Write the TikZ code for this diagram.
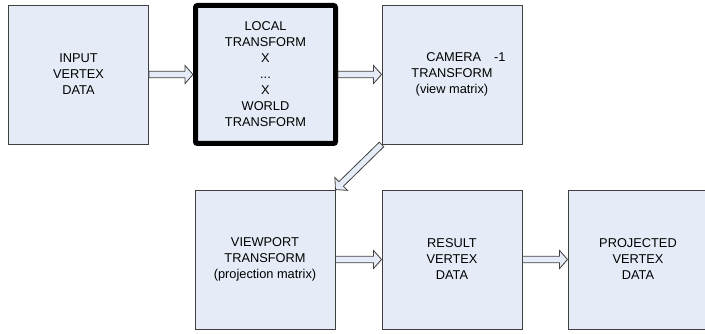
\documentclass[tikz,border=0pt]{standalone}
\usepackage{fontspec}
\setmainfont{Liberation Sans}
\usetikzlibrary{calc}
\definecolor{boxfill}{HTML}{E6ECF7}
\definecolor{boxline}{HTML}{404040}
\begin{document}
\begin{tikzpicture}[x=1pt,y=-1pt,
  box/.style={draw=boxline, line width=0.9pt, fill=boxfill, minimum width=140pt,
    minimum height=139pt, inner sep=0pt, align=center,
    font=\fontsize{12.8}{16}\selectfont},
  thickbox/.style={box, draw=black, line width=5pt, rounded corners=2pt,
    minimum height=138pt},
  hollow/.style={draw=boxline, fill=boxfill, line width=0.8pt, line join=miter,
    to path={
      ($(\tikztostart)!3.2pt!90:(\tikztotarget)$)
      -- ($(\tikztotarget)!8pt!(\tikztostart)!3.2pt!-90:(\tikztostart)$)
      -- ($(\tikztotarget)!8pt!(\tikztostart)!9pt!-90:(\tikztostart)$)
      -- (\tikztotarget)
      -- ($(\tikztotarget)!8pt!(\tikztostart)!9pt!90:(\tikztostart)$)
      -- ($(\tikztotarget)!8pt!(\tikztostart)!3.2pt!90:(\tikztostart)$)
      -- ($(\tikztostart)!3.2pt!-90:(\tikztotarget)$)
      -- cycle}}]
\useasboundingbox (0,0) rectangle (705,334);

\node[box] (input) at (78.5,74.5) {INPUT\\VERTEX\\DATA};
\node[thickbox] (local) at (265.5,74.5) {LOCAL\\TRANSFORM\\X\\...\\X\\WORLD\\TRANSFORM};
\node[box] (camera) at (452,74.5) {\hspace*{28pt}CAMERA\hspace{13pt}-1\\TRANSFORM\\(view matrix)};
\node[box] (viewport) at (265,259.5) {VIEWPORT\\TRANSFORM\\(projection matrix)};
\node[box] (result) at (452,259.5) {RESULT\\VERTEX\\DATA};
\node[box] (projected) at (638,259.5) {PROJECTED\\VERTEX\\DATA};

\draw[hollow] (input.east) to (local.west);
\draw[hollow] (local.east) to (camera.west);
\draw[hollow] (camera.south west) to (viewport.north east);
\draw[hollow] (viewport.east) to (result.west);
\draw[hollow] (result.east) to (projected.west);
\end{tikzpicture}
\end{document}
